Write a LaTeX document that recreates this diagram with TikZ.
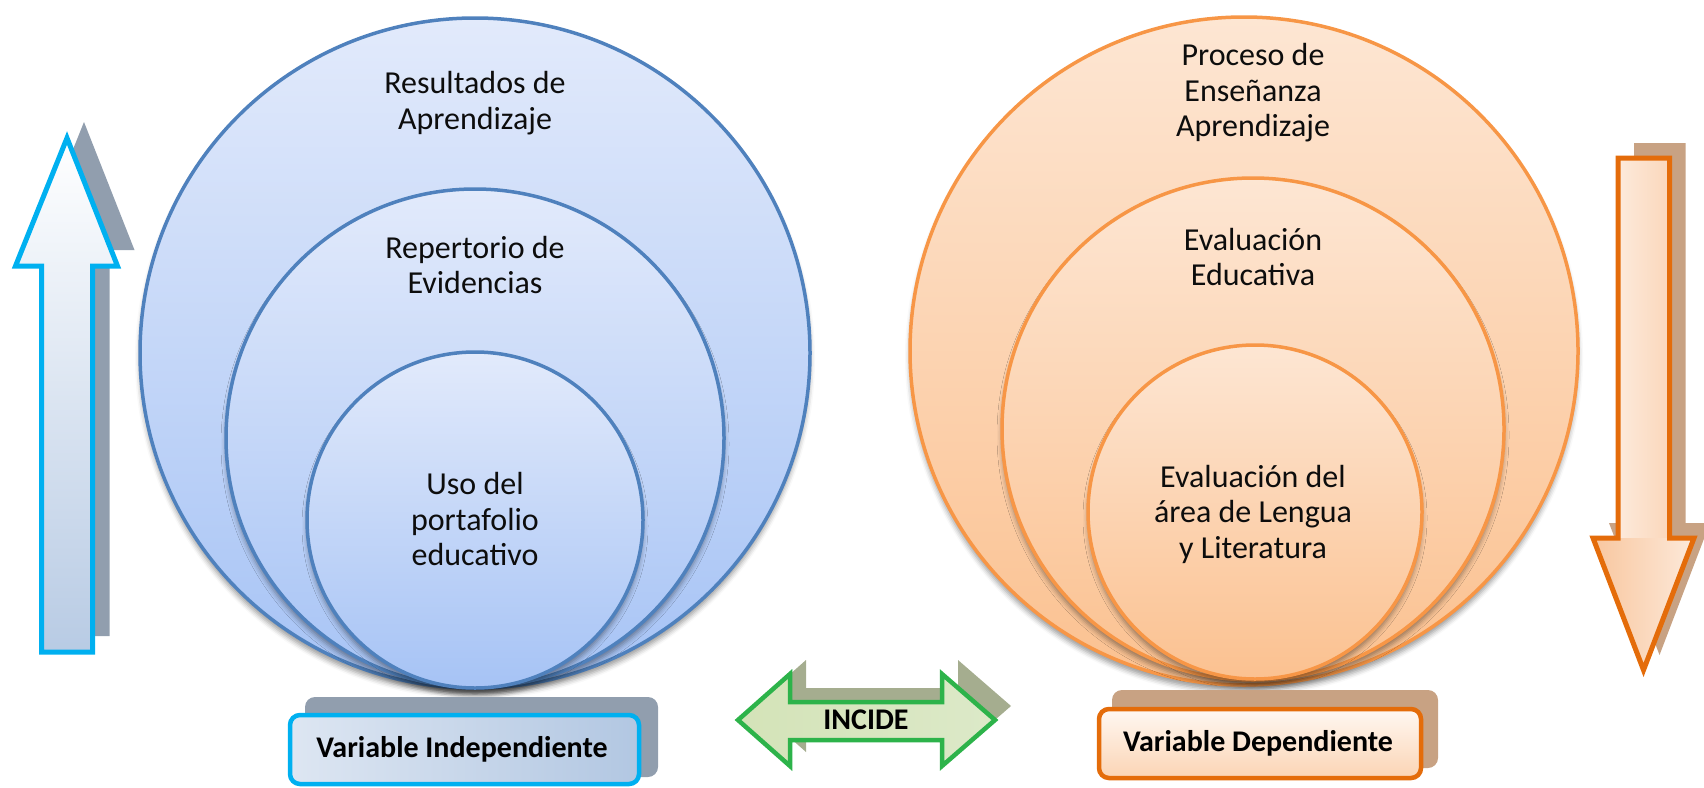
\documentclass[tikz,border=0pt]{standalone}
\usepackage{fontspec}
\setmainfont{Carlito}
\usetikzlibrary{shadows.blur}
\definecolor{bStroke}{HTML}{4F81BD}
\definecolor{bTop}{HTML}{E2EAFB}
\definecolor{bBot}{HTML}{A6C3F5}
\definecolor{oStroke}{HTML}{F79646}
\definecolor{oTop}{HTML}{FDE6D3}
\definecolor{oBot}{HTML}{FBC190}
\definecolor{cyanS}{HTML}{00B0F0}
\definecolor{orS}{HTML}{E46C0A}
\definecolor{grS}{HTML}{2DB34A}
\definecolor{shBlue}{HTML}{919EAE}
\definecolor{shBrown}{HTML}{C8A283}
\definecolor{shGreen}{HTML}{A5AD8F}
\definecolor{txt}{HTML}{0D0D0D}
\definecolor{peachD}{HTML}{F8C59C}
\definecolor{peachL}{HTML}{FDEBDD}
\begin{document}
\begin{tikzpicture}[x=1pt,y=-1pt,
  csh/.style={blur shadow={shadow xshift=0pt,shadow yshift=-6pt,shadow blur radius=5pt,shadow opacity=40}},
  bcirc/.style={circle,inner sep=0pt,outer sep=0pt,draw=bStroke,line width=3.5pt,top color=bTop,bottom color=bBot,csh},
  ocirc/.style={circle,inner sep=0pt,outer sep=0pt,draw=oStroke,line width=3.5pt,top color=oTop,bottom color=oBot,csh},
  ctext/.style={align=center,inner sep=0pt,text=txt,font=\fontsize{32}{35.5}\selectfont},
  ltext/.style={inner sep=0pt,text=black,font=\bfseries\fontsize{30}{34}\selectfont},
  arrowline/.style={line width=5pt,line join=miter,miter limit=10}
]
\useasboundingbox (0,0) rectangle (1704,787);

% ---------- up arrow ----------
\fill[shBlue,shift={(17,-16)}] (67,138) -- (117.5,266) -- (92.5,266) -- (92.5,652) -- (41.5,652) -- (41.5,266) -- (15.5,266) -- cycle;
\draw[arrowline,draw=cyanS,top color=white,bottom color={rgb,255:red,184;green,203;blue,228}]
  (67,138) -- (117.5,266) -- (92.5,266) -- (92.5,652) -- (41.5,652) -- (41.5,266) -- (15.5,266) -- cycle;

% ---------- down arrow ----------
\fill[shBrown,shift={(16,-15)}] (1618,158) -- (1669.5,158) -- (1669.5,538) -- (1694,538) -- (1643.5,670) -- (1593,538) -- (1618,538) -- cycle;
\begin{scope}
  \clip (1618,158) -- (1669.5,158) -- (1669.5,538) -- (1694,538) -- (1643.5,670) -- (1593,538) -- (1618,538) -- cycle;
  \shade[left color=peachL,right color=peachL!45!peachD] (1615,150) rectangle (1672,540);
  \shade[left color=peachD,right color=peachL] (1588,538) rectangle (1700,680);
\end{scope}
\draw[arrowline,draw=orS]
  (1618,158) -- (1669.5,158) -- (1669.5,538) -- (1694,538) -- (1643.5,670) -- (1593,538) -- (1618,538) -- cycle;

% ---------- left circles ----------
\node[bcirc,minimum size=670pt] (L1) at (475,353) {};
\node[bcirc,minimum size=498pt] (L2) at (475,438) {};
\node[bcirc,minimum size=336pt] (L3) at (475,520) {};
\node[ctext] (tL1) at (475,103) {Resultados de\\Aprendizaje};
\node[ctext] (tL2) at (475,265) {Repertorio de\\Evidencias};
\node[ctext] (tL3) at (475,519) {Uso del\\portafolio\\educativo};

% ---------- right circles ----------
\node[ocirc,minimum size=668pt] (R1) at (1244,351) {};
\node[ocirc,minimum size=502pt] (R2) at (1253,429) {};
\node[ocirc,minimum size=334pt] (R3) at (1255,512) {};
\node[ctext] (tR1) at (1253,93) {Proceso de\\Enseñanza\\Aprendizaje};
\node[ctext] (tR2) at (1253,257) {Evaluación\\Educativa};
\node[ctext] (tR3) at (1253,514) {Evaluación del\\área de Lengua\\y Literatura};

% ---------- INCIDE arrow ----------
\fill[shGreen,shift={(16,-14)}] (738,720) -- (790,674) -- (790,702) -- (942,702) -- (942,674) -- (995,720) -- (942,766) -- (942,740) -- (790,740) -- (790,766) -- cycle;
\draw[line width=4.5pt,line join=miter,draw=grS,left color={rgb,255:red,212;green,227;blue,184},middle color={rgb,255:red,243;green,247;blue,235},right color={rgb,255:red,220;green,233;blue,200}]
  (738,720) -- (790,674) -- (790,702) -- (942,702) -- (942,674) -- (995,720) -- (942,766) -- (942,740) -- (790,740) -- (790,766) -- cycle;
\node[ltext] (inc) at (866,720) {INCIDE};

% ---------- labels ----------
\fill[shBlue,rounded corners=10pt] (305,697) rectangle (658,777);
\draw[line width=4.5pt,draw=cyanS,rounded corners=10pt,left color={rgb,255:red,221;green,230;blue,242},right color={rgb,255:red,178;green,199;blue,226}] (290,715) rectangle (639,784);
\node[ltext] (vi) at (462,749) {Variable Independiente};

\fill[shBrown,rounded corners=10pt] (1112,690) rectangle (1438,768);
\draw[line width=4.5pt,draw=orS,rounded corners=10pt,top color={rgb,255:red,255;green,248;blue,242},bottom color={rgb,255:red,251;green,212;blue,180}] (1099,709) rectangle (1421,778);
\node[ltext] (vd) at (1258,743) {Variable Dependiente};
\end{tikzpicture}
\end{document}
